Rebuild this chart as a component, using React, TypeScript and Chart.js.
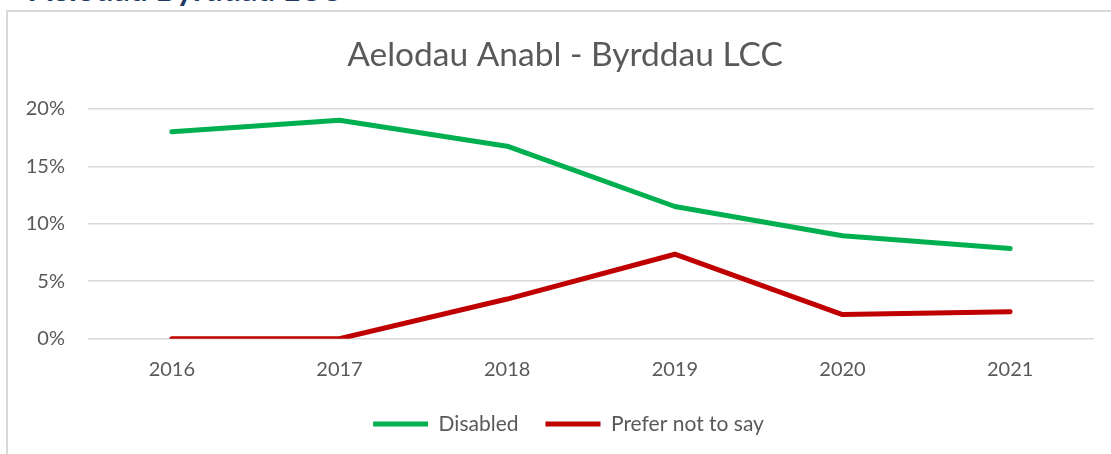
import React, { useEffect, useRef } from "react";
import { Chart, registerables } from "chart.js";

Chart.register(...registerables);

const years = ["2016", "2017", "2018", "2019", "2020", "2021"];
const disabled = [18.0, 19.0, 16.75, 11.5, 8.95, 7.85];
const preferNotToSay = [0, 0, 3.45, 7.35, 2.1, 2.35];
const yMin = 0;
const yMax = 20;
const yStep = 5;
const chartTitle = "Aelodau Anabl - Byrddau LCC";
const heading = "Aelodau Byrddau LCC";
const seriesNames = ["Disabled", "Prefer not to say"];

const TEXT = "#595959";
const FONT = "Lato";

const shiftBlocks = {
  id: "shiftBlocks",
  afterLayout(chart: any) {
    if (chart.titleBlock) chart.titleBlock.left = 27;
    if (chart.legend) chart.legend.left = 34;
  },
};

export default function App() {
  const ref = useRef<HTMLCanvasElement | null>(null);

  useEffect(() => {
    if (!ref.current) return;
    const chart = new Chart(ref.current, {
      type: "line",
      data: {
        labels: years,
        datasets: [
          {
            label: seriesNames[0],
            data: disabled,
            borderColor: "#00B050",
            backgroundColor: "#00B050",
            borderWidth: 5,
            pointRadius: 0,
            pointStyle: "line",
            borderCapStyle: "round",
            borderJoinStyle: "round",
            tension: 0,
            fill: false,
          },
          {
            label: seriesNames[1],
            data: preferNotToSay,
            borderColor: "#C00000",
            backgroundColor: "#C00000",
            borderWidth: 5,
            pointRadius: 0,
            pointStyle: "line",
            borderCapStyle: "round",
            borderJoinStyle: "round",
            tension: 0,
            fill: false,
          },
        ],
      },
      options: {
        responsive: false,
        animation: false,
        layout: { padding: { left: 0, right: 17, top: 0, bottom: 9.5 } },
        plugins: {
          title: {
            display: true,
            text: chartTitle,
            color: TEXT,
            font: { family: FONT, size: 33.5, weight: "normal" },
            padding: { top: 23.3, bottom: 33.3 },
          },
          legend: {
            position: "bottom",
            labels: {
              usePointStyle: true,
              pointStyle: "line",
              pointStyleWidth: 55,
              color: TEXT,
              font: { family: FONT, size: 21 },
              padding: 27,
            },
          },
          tooltip: { enabled: false },
        },
        scales: {
          x: {
            offset: true,
            grid: { display: false, drawTicks: false },
            border: { display: false },
            ticks: { color: TEXT, font: { family: FONT, size: 20 }, padding: 19.3 },
            afterFit: (s: any) => {
              s.height = 47.8;
            },
          },
          y: {
            min: yMin,
            max: yMax,
            grid: { color: "#D9D9D9", lineWidth: 1.5, drawTicks: false },
            border: { display: false },
            ticks: {
              stepSize: yStep,
              color: TEXT,
              font: { family: FONT, size: 20 },
              padding: 23,
              callback: (v: any) => v + "%",
            },
            afterFit: (s: any) => {
              s.width = 79;
            },
          },
        },
      },
      plugins: [shiftBlocks],
    } as any);
    return () => chart.destroy();
  }, []);

  return (
    <div style={{ position: "fixed", left: 0, top: 0, width: 1111, height: 454, background: "#fff", overflow: "hidden" }}>
      <div
        style={{
          position: "absolute",
          left: 30,
          top: -27,
          fontFamily: FONT,
          fontWeight: "bold",
          fontSize: 32,
          lineHeight: "32px",
          color: "#1F3864",
          whiteSpace: "nowrap",
        }}
      >
        {heading}
      </div>
      <div
        style={{
          position: "absolute",
          left: 6,
          top: 10,
          width: 1130,
          height: 470,
          border: "2px solid #D9D9D9",
          boxSizing: "border-box",
        }}
      />
      <canvas
        ref={ref}
        width={1102}
        height={442}
        style={{ position: "absolute", left: 9, top: 12, width: 1102, height: 442 }}
      />
    </div>
  );
}
